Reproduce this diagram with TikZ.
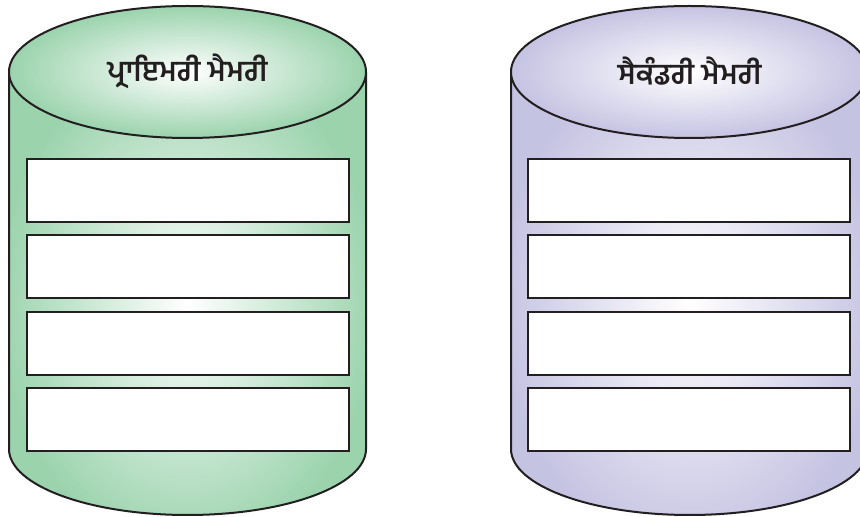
\documentclass[tikz,border=0pt]{standalone}
\usepackage{fontspec}
\newfontfamily\pafont[Script=Gurmukhi]{Hind Jalandhar}
\definecolor{gcol}{HTML}{9BD3AD}
\definecolor{pcol}{HTML}{C5C3E2}
\definecolor{ink}{HTML}{231F20}
\tikzset{
  outline/.style={draw=ink, line width=2pt},
  slot/.style={draw=ink, line width=2pt, fill=white, minimum width=322pt, minimum height=63pt, inner sep=0pt},
  title/.style={font=\pafont\bfseries\fontsize{29}{34}\selectfont, text=ink, inner sep=0pt}
}
\newcommand{\memcyl}[2]{%
  % #1 = centre x, #2 = colour
  \fill[#2] (#1-178.5,445) -- (#1-178.5,68) arc[start angle=180,end angle=360,x radius=178.5,y radius=66] -- (#1+178.5,445) arc[start angle=0,end angle=180,x radius=178.5,y radius=66] -- cycle;
  \begin{scope}
    \clip (#1-178.5,445) -- (#1-178.5,68) arc[start angle=180,end angle=360,x radius=178.5,y radius=66] -- (#1+178.5,445) -- cycle;
    \shade[inner color=white, outer color=#2] (#1,214) ellipse[x radius=190, y radius=250];
  \end{scope}
  \draw[outline] (#1-178.5,445) -- (#1-178.5,68) arc[start angle=180,end angle=360,x radius=178.5,y radius=66] -- (#1+178.5,445);
  \shade[inner color=white, outer color=#2] (#1,445) ellipse[x radius=178.5, y radius=66];
  \draw[outline] (#1,445) ellipse[x radius=178.5, y radius=66];
}
\begin{document}
\begin{tikzpicture}[x=1pt,y=1pt]
\useasboundingbox (0,0) rectangle (860,517);
\memcyl{187.5}{gcol}
\memcyl{689.5}{pcol}
\node[title] (ptitle) at (187.5,446) {ਪ੍ਰਾਇਮਰੀ ਮੈਮਰੀ};
\node[title] (stitle) at (689.5,446) {ਸੈਕੰਡਰੀ ਮੈਮਰੀ};
\foreach \i in {0,1,2,3}{
  \node[slot] (p\i) at (188,{517-190.5-76.3*\i}) {};
  \node[slot] (s\i) at (689,{517-190.5-76.3*\i}) {};
}
\end{tikzpicture}
\end{document}
